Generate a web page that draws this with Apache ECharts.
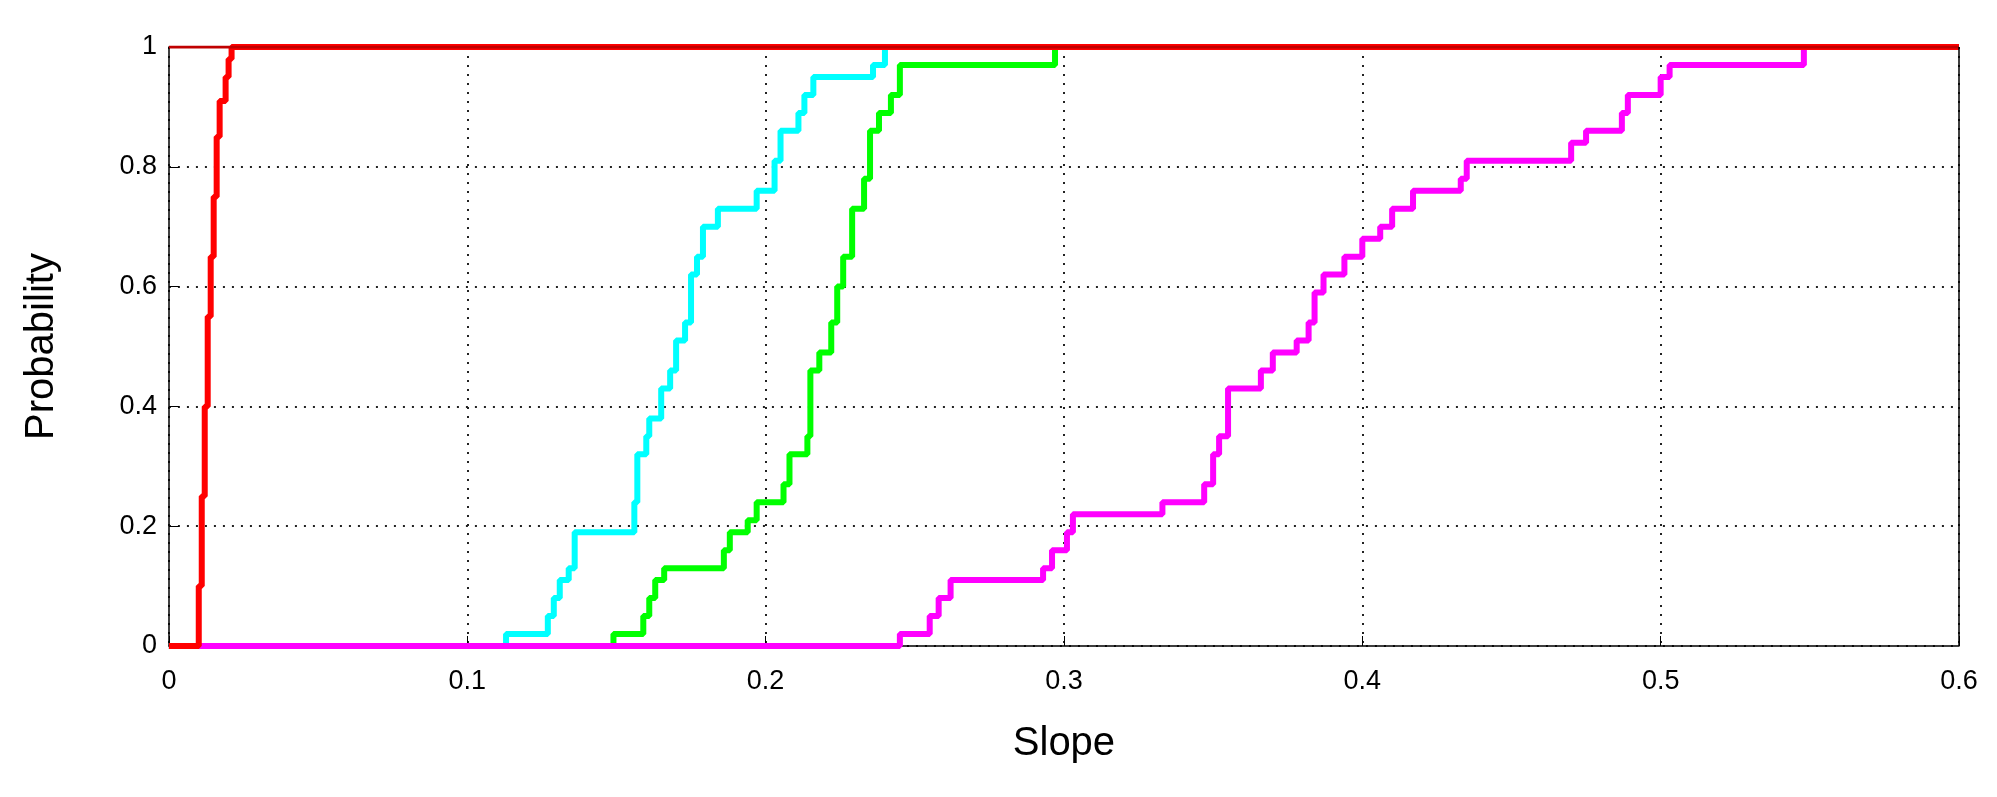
<!DOCTYPE html><html><head><script src="https://cdn.jsdelivr.net/npm/echarts@6/dist/echarts.min.js"></script></head><body style="margin:0"><div id="c" style="width:1997px;height:797px"></div><script>
const xTicks=[0,0.1,0.2,0.3,0.4,0.5,0.6];
const redData=[[0,0],[0.009,0],[0.010,0.1],[0.011,0.25],[0.012,0.4],[0.013,0.55],[0.014,0.65],[0.015,0.75],[0.016,0.85],[0.017,0.91],[0.019,0.95],[0.020,0.98],[0.021,1],[0.6,1]];
const cyanData=[[0,0],[0.113,0.02],[0.127,0.05],[0.129,0.08],[0.131,0.11],[0.134,0.13],[0.136,0.19],[0.156,0.24],[0.157,0.32],[0.160,0.35],[0.161,0.38],[0.165,0.43],[0.168,0.46],[0.170,0.51],[0.173,0.54],[0.175,0.62],[0.177,0.65],[0.179,0.70],[0.184,0.73],[0.197,0.76],[0.203,0.81],[0.205,0.86],[0.211,0.89],[0.213,0.92],[0.216,0.95],[0.236,0.97],[0.240,1]];
const greenData=[[0,0],[0.149,0.02],[0.159,0.05],[0.161,0.08],[0.163,0.11],[0.166,0.13],[0.186,0.16],[0.188,0.19],[0.194,0.21],[0.197,0.24],[0.206,0.27],[0.208,0.32],[0.214,0.35],[0.215,0.46],[0.218,0.49],[0.222,0.54],[0.224,0.60],[0.226,0.65],[0.229,0.73],[0.233,0.78],[0.235,0.86],[0.238,0.89],[0.242,0.92],[0.245,0.97],[0.297,1]];
const magentaData=[[0,0],[0.245,0.02],[0.255,0.05],[0.258,0.08],[0.262,0.11],[0.293,0.13],[0.296,0.16],[0.301,0.19],[0.303,0.22],[0.333,0.24],[0.347,0.27],[0.350,0.32],[0.352,0.35],[0.355,0.43],[0.366,0.46],[0.370,0.49],[0.378,0.51],[0.382,0.54],[0.384,0.59],[0.387,0.62],[0.394,0.65],[0.400,0.68],[0.406,0.70],[0.410,0.73],[0.417,0.76],[0.433,0.78],[0.435,0.81],[0.470,0.84],[0.475,0.86],[0.487,0.89],[0.489,0.92],[0.500,0.95],[0.503,0.97],[0.548,1]];
const ch=echarts.init(document.getElementById('c'));
const ser=(d,c,z)=>({type:'line',data:d,step:'end',symbol:'none',lineStyle:{color:c,width:6},z:z});
const gl={show:true,lineStyle:{type:[2,7],color:'#222',width:2}};
ch.setOption({animation:false,
grid:{left:155,right:38,top:47,bottom:151},
xAxis:{type:'value',min:0,max:0.6,interval:0.1,name:'Slope',nameLocation:'middle',nameGap:55,nameTextStyle:{fontSize:40,fontFamily:'Arial',color:'#000'},
axisLine:{lineStyle:{color:'#000',width:1.5}},axisTick:{inside:true,length:10,lineStyle:{color:'#000'}},axisLabel:{fontSize:27,fontFamily:'Arial',color:'#000',margin:12,formatter:v=>xTicks.includes(v)?String(v):''},splitLine:gl},
yAxis:{type:'value',min:0,max:1,interval:0.2,name:'Probability',nameLocation:'middle',nameGap:92,nameTextStyle:{fontSize:40,fontFamily:'Arial',color:'#000'},
axisLine:{lineStyle:{color:'#000',width:1.5}},axisTick:{inside:true,length:10,lineStyle:{color:'#000'}},axisLabel:{fontSize:27,fontFamily:'Arial',color:'#000',margin:12,formatter:v=>String(Math.round(v*10)/10)},splitLine:gl},
series:[ser(greenData,'#00ff00',2),ser(cyanData,'#00ffff',3),ser(magentaData,'#ff00ff',4),ser(redData,'#ff0000',5),
{type:'line',data:[[0,1],[0.6,1]],symbol:'none',lineStyle:{color:'#c00000',width:3},z:6},
{type:'line',data:[[0.6,0],[0.6,1]],symbol:'none',lineStyle:{color:'#000',width:1.5},z:6}]
});
</script></body></html>
